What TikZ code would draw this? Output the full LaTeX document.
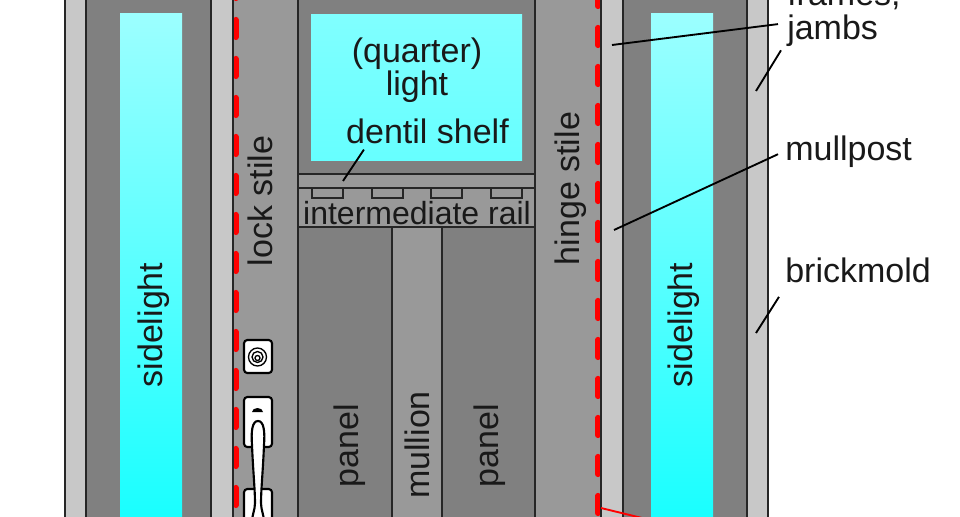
\documentclass[tikz,border=0pt]{standalone}
\usepackage{fontspec}
\setmainfont{Liberation Sans}
\usetikzlibrary{calc}
\definecolor{framegray}{HTML}{C8C8C8}
\definecolor{darkgray2}{HTML}{808080}
\definecolor{stilegray}{HTML}{999999}
\definecolor{glasstop}{HTML}{9CFFFF}
\definecolor{glassbot}{HTML}{18FFFF}
\definecolor{lighttop}{HTML}{80FFFF}
\definecolor{lightbot}{HTML}{66FFFF}
\tikzset{
  outline/.style={draw=black!85,line width=1.6pt},
  frameband/.style={fill=framegray},
  darkband/.style={fill=darkgray2},
  stileband/.style={fill=stilegray},
  seal/.style={draw=red,line width=4.4pt,line cap=round,dash pattern=on 13pt off 16.25pt},
  leader/.style={draw=black,line width=1.4pt},
  lbl/.style={inner sep=0pt,text=black!90,font=\fontsize{25.5}{30}\selectfont},
  vlbl/.style={lbl,rotate=90,anchor=base},
  hard/.style={draw=black,line width=1.6pt,fill=white,rounded corners=2.5pt},
}
\begin{document}
\begin{tikzpicture}[x=0.75pt,y=-0.75pt]
\useasboundingbox (0,0) rectangle (960,517);
\clip (0,0) rectangle (960,517);
\fill[white] (0,0) rectangle (960,517);
% left frame
\path[frameband] (65,-5) rectangle (86,522);
\path[darkband] (86,-5) rectangle (211,522);
\path[frameband] (211,-5) rectangle (233,522);
\shade[top color=glasstop,bottom color=glassbot] (120,14) rectangle (182,522);
% door body
\path[stileband] (233,-5) rectangle (601,522);
\path[darkband] (298,-5) rectangle (535,174);
\shade[top color=lighttop,bottom color=lightbot] (311,15) rectangle (522,160);
\path[darkband] (298,227) rectangle (392,522);
\path[darkband] (442,227) rectangle (535,522);
% right frame
\path[frameband] (601,-5) rectangle (623,522);
\path[darkband] (623,-5) rectangle (747,522);
\path[frameband] (747,-5) rectangle (768,522);
\shade[top color=glasstop,bottom color=glassbot] (651,14) rectangle (713,522);
% seal under the door edges
\draw[seal] (235.7,-19.2) -- (235.7,530);
\draw[seal] (598,-11.2) -- (598,530);
% verticals
\foreach \xx in {65,86,211,233,298,535,601,623,747,768}{
  \draw[outline] (\xx,-5) -- (\xx,522);
}
\draw[outline] (298,174) -- (535,174);
\draw[outline] (298,188) -- (535,188);
\draw[outline] (298,227) -- (535,227);
\draw[outline] (392,227) -- (392,522);
\draw[outline] (442,227) -- (442,522);
\foreach \xx in {312,372,431,491}{
  \draw[draw=black!85,line width=1.1pt] (\xx,188) rectangle (\xx+31,198);
}
\draw[draw=red,line width=1.4pt] (601,508) -- (642,518);
% hardware
\draw[hard] (244,340) rectangle (272,373);
\draw[line width=1pt] (257.5,357) circle (9);
\draw[line width=1pt] (257.5,357) circle (5.5);
\draw[line width=1pt] (257.5,358) circle (2.5);
\draw[hard] (244,397) rectangle (272,447);
\draw[hard] (244,489) rectangle (272,530);
\fill[black] (252,412) -- (263,412) arc (0:180:5.5 and -4) -- cycle;
\draw[draw=black,line width=1.6pt,fill=white]
  (258,421) .. controls (252,421) and (251,432) .. (252,445)
  .. controls (253,470) and (255,490) .. (255,503)
  .. controls (255,510) and (252,515) .. (252,522)
  -- (264,522) .. controls (264,515) and (261,510) .. (261,503)
  .. controls (261,490) and (263,470) .. (264,445)
  .. controls (265,432) and (264,421) .. (258,421) -- cycle;
% labels
\node[lbl,anchor=base] (quarter) at (417,63) {(quarter)};
\node[lbl,anchor=base] (lighttext) at (417,95) {light};
\node[lbl,anchor=base] (dentil) at (427.5,143) {dentil shelf};
\node[lbl,anchor=base,font=\fontsize{24}{30}\selectfont] (rail) at (417,224) {intermediate rail};
\node[vlbl] (lock) at (272,201) {lock stile};
\node[vlbl] (hinge) at (579,188.5) {hinge stile};
\node[vlbl] (sideL) at (162,325) {sidelight};
\node[vlbl] (sideR) at (692,325) {sidelight};
\node[vlbl] (panelL) at (358,446) {panel};
\node[vlbl] (mull) at (429,445) {mullion};
\node[vlbl] (panelR) at (498,446) {panel};
\node[lbl,anchor=base west] (frames) at (787,6) {frames,};
\node[lbl,anchor=base west] (jambs) at (787,40) {jambs};
\node[lbl,anchor=base west] (mullpost) at (785,160) {mullpost};
\node[lbl,anchor=base west] (brickmold) at (785,282) {brickmold};
% leaders
\coordinate (frameA) at (612,45);
\coordinate (frameB) at (756,91);
\coordinate (mullA) at (614,230);
\coordinate (brickA) at (756,333);
\coordinate (dentilA) at (343,181);
\draw[leader] (frameA) -- ([shift={(-9,9)}]jambs.north west);
\draw[leader] (frameB) -- ([shift={(-6,3)}]jambs.south west);
\draw[leader] (mullA) -- ([shift={(-7,3)}]mullpost.west);
\draw[leader] (brickA) -- ([shift={(-6,27)}]brickmold.west);
\draw[leader] (dentilA) -- ([shift={(18,6)}]dentil.south west);
\end{tikzpicture}
\end{document}
